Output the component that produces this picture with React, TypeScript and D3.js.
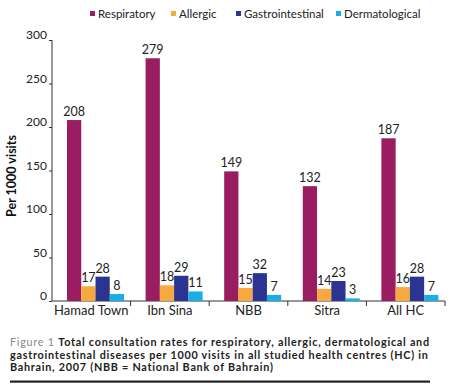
import React, { useRef, useEffect } from "react"
import * as d3 from "d3"

const centres = ["Hamad Town", "Ibn Sina", "NBB", "Sitra", "All HC"]
const seriesNames = ["Respiratory", "Allergic", "Gastrointestinal", "Dermatological"]
const respiratory = [208, 279, 149, 132, 187]
const allergic = [17, 18, 15, 14, 16]
const gastrointestinal = [28, 29, 32, 23, 28]
const dermatological = [8, 11, 7, 3, 7]
const yTicks = [0, 50, 100, 150, 200, 250, 300]
const colors = ["#9b1d61", "#f7a940", "#2b3591", "#1aaee6"]

const FONT = "Lato, 'Open Sans', sans-serif"

const App: React.FC = () => {
  const svgRef = useRef<SVGSVGElement>(null)

  useEffect(() => {
    const svg = d3.select(svgRef.current)
    svg.selectAll("*").remove()

    const left = 52
    const right = 445
    const top = 40
    const bottom = 301

    const series = [respiratory, allergic, gastrointestinal, dermatological]

    const x = d3.scaleBand<string>()
      .domain(centres)
      .range([left, right])

    const x1 = d3.scaleBand<number>()
      .domain([0, 1, 2, 3])
      .range([15, 72])

    const y = d3.scaleLinear()
      .domain([0, 300])
      .range([bottom, top])

    // legend
    const legendX = [90, 171, 236, 336]
    const legend = svg.append("g")
    seriesNames.forEach((name, i) => {
      legend.append("rect")
        .attr("x", legendX[i]).attr("y", 11)
        .attr("width", 5).attr("height", 5)
        .attr("fill", colors[i])
      legend.append("text")
        .attr("x", legendX[i] + 8).attr("y", 17.5)
        .attr("font-size", 11.5)
        .attr("fill", "#222")
        .text(name)
    })

    // y axis
    const yAxis = svg.append("g")
      .attr("transform", `translate(${left},0)`)
      .call(d3.axisLeft(y).tickValues(yTicks).tickSize(3).tickPadding(2))
    yAxis.select(".domain").attr("stroke", "#333").attr("d", `M0,${top}V${bottom}`)
    yAxis.selectAll(".tick line").attr("stroke", "#333")
    yAxis.selectAll(".tick text")
      .attr("font-size", 12).attr("font-family", FONT).attr("fill", "#222")
      .attr("dy", "-0.1em")

    // x axis
    const xAxis = svg.append("g")
      .attr("transform", `translate(0,${bottom})`)
    xAxis.append("line")
      .attr("x1", left).attr("x2", right)
      .attr("stroke", "#333")
    d3.range(1, centres.length + 1).forEach(i => {
      const xp = left + i * x.step()
      xAxis.append("line")
        .attr("x1", xp).attr("x2", xp).attr("y1", 0).attr("y2", 5)
        .attr("stroke", "#333")
    })
    xAxis.selectAll("text.cat")
      .data(centres)
      .enter().append("text")
      .attr("class", "cat")
      .attr("x", d => (x(d) as number) + x.bandwidth() / 2)
      .attr("y", 13.5)
      .attr("text-anchor", "middle")
      .attr("font-size", 13)
      .attr("fill", "#222")
      .text(d => d)

    // bars
    const groups = svg.append("g").selectAll("g")
      .data(centres)
      .enter().append("g")
      .attr("transform", d => `translate(${x(d)},0)`)

    series.forEach((vals, s) => {
      groups.append("rect")
        .attr("x", x1(s) as number)
        .attr("y", (d, i) => y(vals[i]))
        .attr("width", x1.bandwidth())
        .attr("height", (d, i) => bottom - y(vals[i]))
        .attr("fill", colors[s])
      groups.append("text")
        .attr("x", (x1(s) as number) + x1.bandwidth() / 2)
        .attr("y", (d, i) => y(vals[i]) - 4)
        .attr("text-anchor", "middle")
        .attr("font-size", 12.5)
        .attr("fill", "#222")
        .text((d, i) => vals[i])
    })

    // y title
    svg.append("text")
      .attr("transform", "translate(16,176) rotate(-90)")
      .attr("text-anchor", "middle")
      .attr("font-size", 12.5)
      .attr("font-weight", "bold")
      .attr("fill", "#111")
      .text("Per 1000 visits")

    // caption
    const cap = svg.append("g").attr("font-size", 10.8).attr("letter-spacing", 0.75).attr("fill", "#222")
    const l1 = cap.append("text").attr("x", 10).attr("y", 346)
    l1.append("tspan").attr("fill", "#888").text("Figure 1 ")
    l1.append("tspan").attr("font-weight", "bold")
      .text("Total consultation rates for respiratory, allergic, dermatological and")
    cap.append("text").attr("x", 10).attr("y", 358.5).attr("font-weight", "bold")
      .text("gastrointestinal diseases per 1000 visits in all studied health centres (HC) in")
    cap.append("text").attr("x", 10).attr("y", 371).attr("font-weight", "bold")
      .text("Bahrain, 2007 (NBB = National Bank of Bahrain)")
    svg.append("rect")
      .attr("x", 10).attr("y", 380.5).attr("width", 420).attr("height", 2.2)
      .attr("fill", "#222")
  }, [])

  return (
    <svg ref={svgRef} width={451} height={390}
      style={{ position: "absolute", left: 0, top: 0, fontFamily: FONT }} />
  )
}

export default App
